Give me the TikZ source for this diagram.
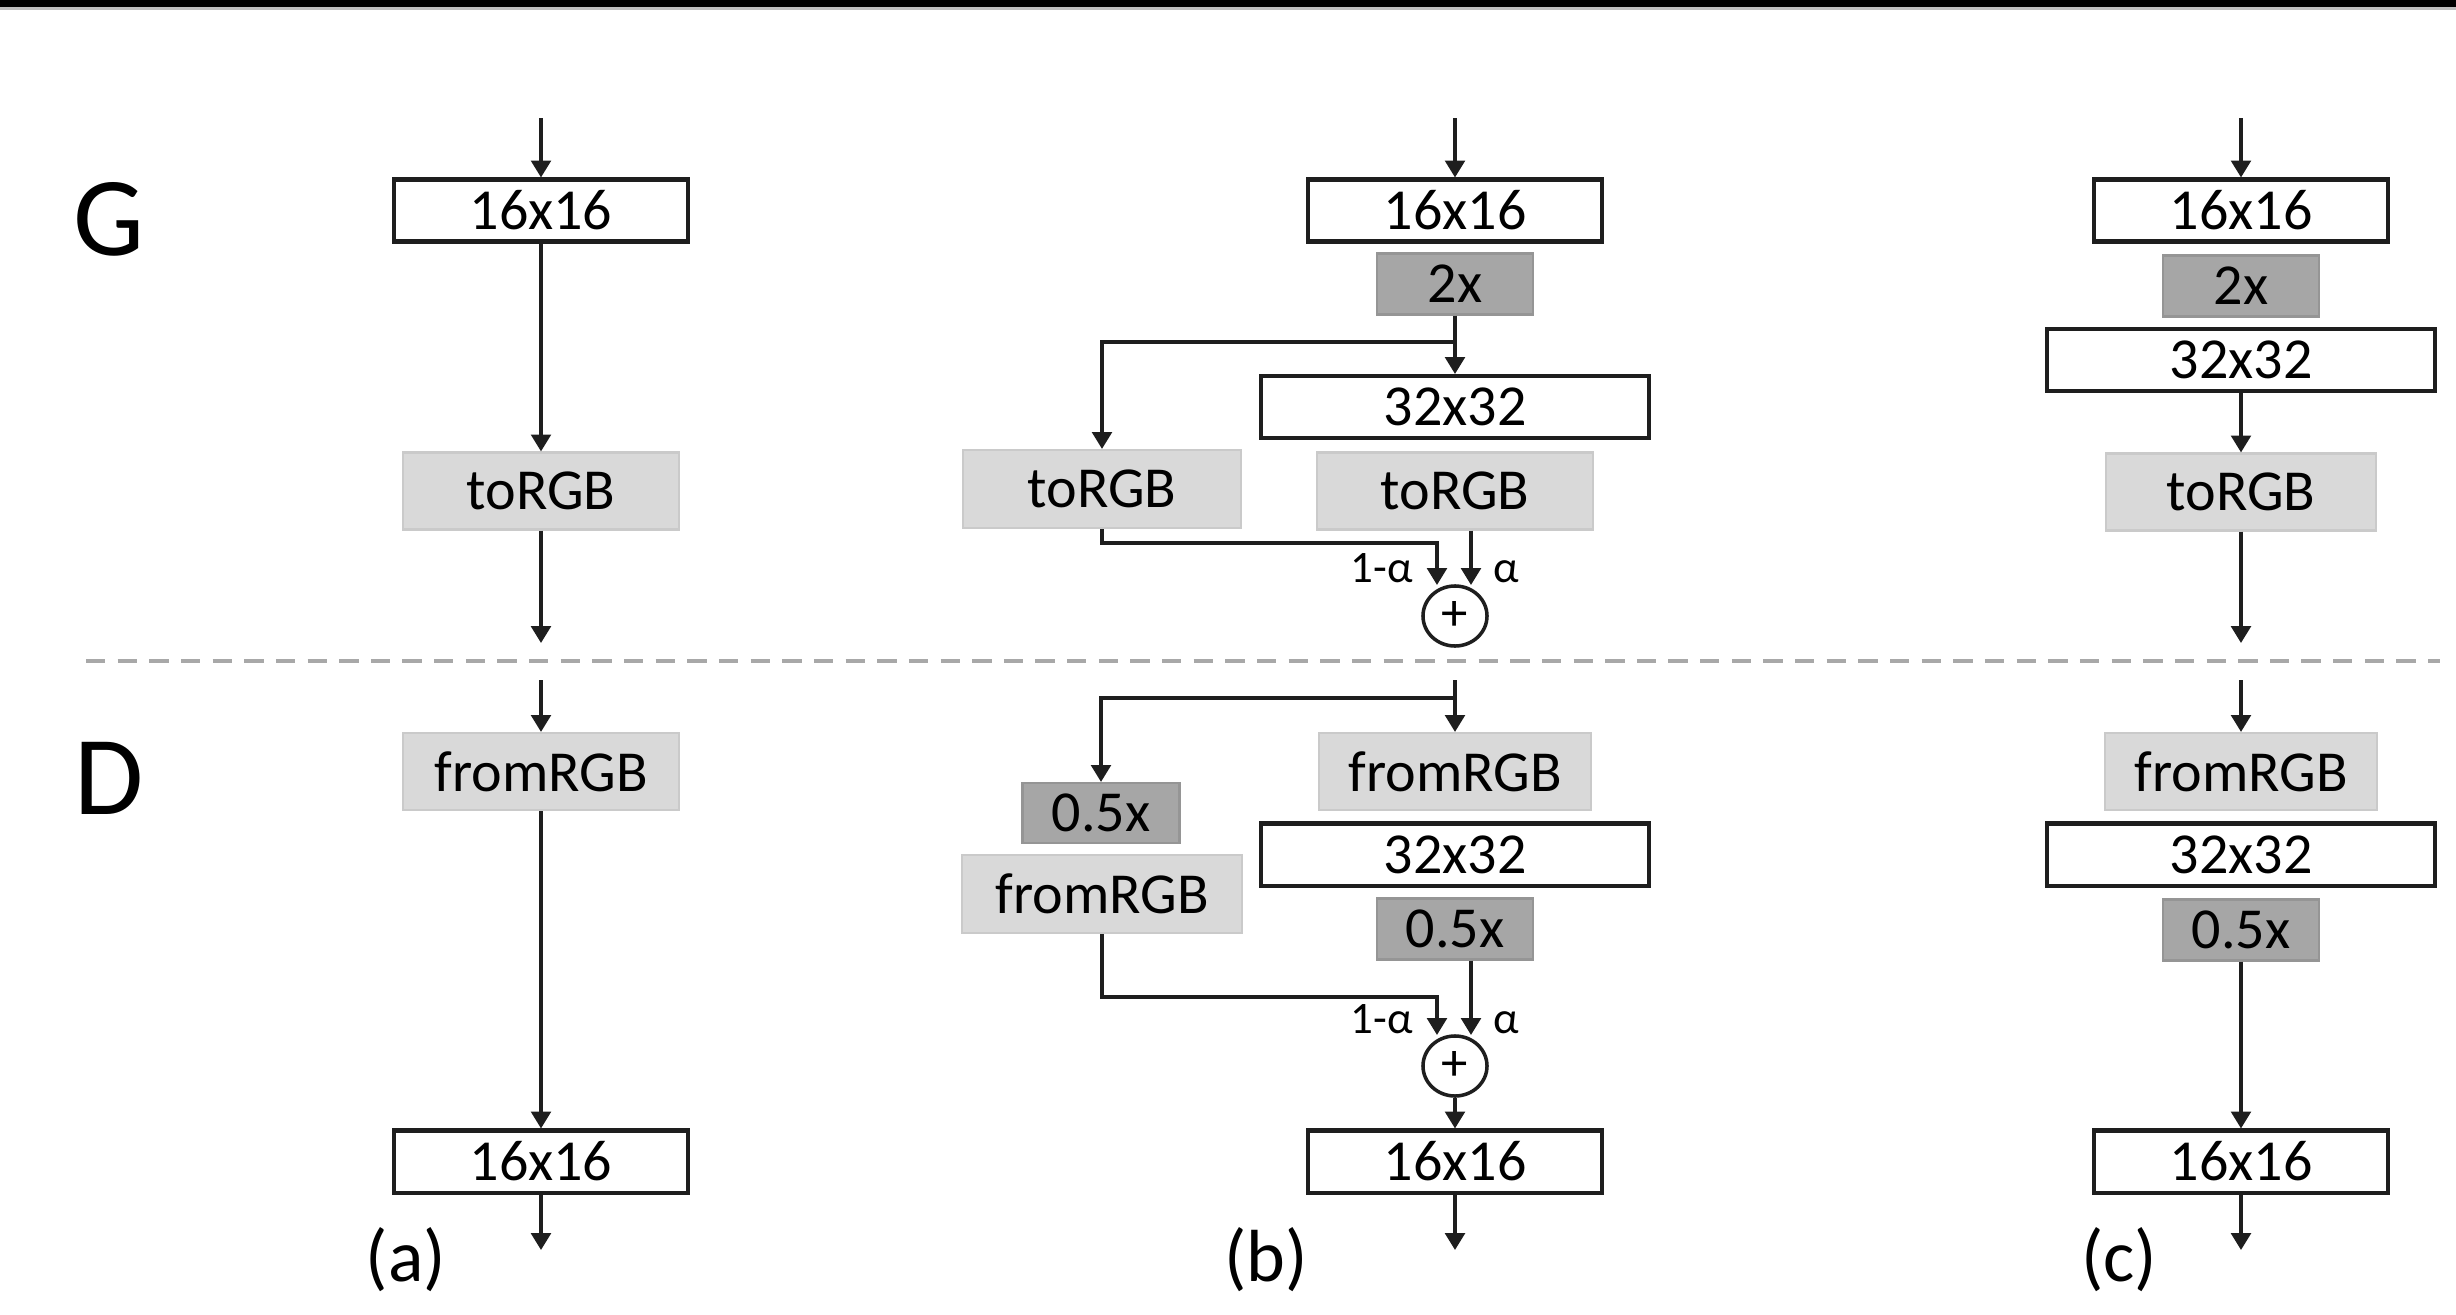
\documentclass[tikz,border=0pt]{standalone}
\usepackage{fontspec}
\setmainfont{Carlito}
\usetikzlibrary{arrows.meta,shapes.geometric}
\definecolor{lightg}{HTML}{D9D9D9}
\definecolor{lightgb}{HTML}{CACACA}
\definecolor{darkg}{HTML}{A6A6A6}
\definecolor{darkgb}{HTML}{959595}
\definecolor{linec}{HTML}{1E1E1E}
\definecolor{dashc}{HTML}{A8A8A8}
\tikzset{
  boxtext/.style={font=\fontsize{16.5}{18}\selectfont, text=black, inner sep=0pt},
  wbox/.style={boxtext, draw=linec, line width=1.15pt, fill=white, minimum width=2.94cm, minimum height=0.62cm},
  wwide/.style={wbox, minimum width=3.87cm},
  lbox/.style={boxtext, fill=lightg, draw=lightgb, line width=0.6pt, minimum width=2.76cm, minimum height=0.77cm},
  dbox/.style={boxtext, fill=darkg, draw=darkgb, line width=0.6pt, minimum width=1.56cm, minimum height=0.61cm},
  sumnode/.style={ellipse, draw=linec, line width=1pt, minimum width=0.64cm, minimum height=0.60cm, inner sep=0pt, font=\fontsize{15}{15}\selectfont},
  arr/.style={-{Triangle[length=4.8pt,width=5.6pt]}, line width=0.95pt, draw=linec},
  wlabel/.style={font=\fontsize{12.8}{14}\selectfont, text=black, inner sep=0pt, anchor=base},
  sublabel/.style={font=\fontsize{21}{24}\selectfont, text=black, inner sep=0pt},
  biglabel/.style={font=\fontsize{32}{36}\selectfont, text=black, inner sep=0pt},
  sepline/.style={draw=dashc, line width=1.1pt, dash pattern=on 5.5pt off 3.5pt}
}
\begin{document}
\begin{tikzpicture}[x=0.01cm,y=-0.01cm]
\useasboundingbox (0,0) rectangle (2456,1315);
% top bar
\fill[black] (0,0) rectangle (2456,7);
\draw[gray!50, line width=0.6pt] (0,8.5) -- (2456,8.5);

% side labels
\node[biglabel] (G) at (109,219) {G};
\node[biglabel] (D) at (109,778) {D};

% separator
\coordinate (sepL) at (86,661);
\coordinate (sepR) at (2440,661);
\draw[sepline] (sepL) -- (sepR);

%% ---------------- column (a) ----------------
\node[wbox] (a16t) at (541,210.5) {16x16};
\node[lbox] (aRGB) at (541,491) {toRGB};
\node[lbox] (aFrom) at (541,771.5) {fromRGB};
\node[wbox] (a16b) at (541,1161.5) {16x16};
\coordinate (aIn) at (541,118);
\coordinate (aOutG) at (541,643);
\coordinate (aInD) at (541,680);
\coordinate (aOut) at (541,1250);
\draw[arr] (aIn) -- (a16t);
\draw[arr] (a16t) -- (aRGB);
\draw[arr] (aRGB) -- (aOutG);
\draw[arr] (aInD) -- (aFrom);
\draw[arr] (aFrom) -- (a16b);
\draw[arr] (a16b) -- (aOut);
\node[sublabel] (la) at (406,1260) {(a)};

%% ---------------- column (b) ----------------
\node[wbox] (b16t) at (1455,210.5) {16x16};
\node[dbox] (b2x) at (1455,284) {2x};
\node[wwide] (b32t) at (1455,407) {32x32};
\node[lbox] (bRGBr) at (1455,491) {toRGB};
\node[lbox, minimum width=2.78cm, minimum height=0.78cm] (bRGBl) at (1102,489) {toRGB};
\node[sumnode] (bP) at (1455,616) {+};
\coordinate (bIn) at (1455,118);
\coordinate (bJ) at (1455,342);
\coordinate (bT1) at (1437,585);
\coordinate (bT2) at (1471,585);
\draw[arr] (bIn) -- (b16t);
\draw[arr] (b2x) -- (b32t);
\draw[arr] (bJ) -| (bRGBl);
\draw[arr] (bRGBl.south) -- ++(0,14) -| (bT1);
\draw[arr] (bRGBr.south -| bT2) -- (bT2);
\node[wlabel] (bL1) at (1382,582) {1-α};
\node[wlabel] (bL2) at (1506,582) {α};

\node[lbox, minimum width=2.71cm] (bFromr) at (1455,771.5) {fromRGB};
\node[wwide] (b32b) at (1455,854.5) {32x32};
\node[dbox] (b05r) at (1455,929) {0.5x};
\node[dbox, minimum width=1.57cm, minimum height=0.60cm] (b05l) at (1101,813) {0.5x};
\node[lbox, minimum width=2.80cm, minimum height=0.78cm] (bFroml) at (1102,894) {fromRGB};
\node[sumnode] (bP2) at (1455,1066) {+};
\node[wbox] (b16b) at (1455,1161.5) {16x16};
\coordinate (bInD) at (1455,680);
\coordinate (bJ2) at (1455,698);
\coordinate (bT3) at (1437,1035);
\coordinate (bT4) at (1471,1035);
\coordinate (bOut) at (1455,1250);
\draw[arr] (bInD) -- (bFromr);
\draw[arr] (bJ2) -| (b05l);
\draw[arr] (bFroml.south) -- ++(0,63) -| (bT3);
\draw[arr] (b05r.south -| bT4) -- (bT4);
\draw[arr] (bP2) -- (b16b);
\draw[arr] (b16b) -- (bOut);
\node[wlabel] (bL3) at (1382,1033) {1-α};
\node[wlabel] (bL4) at (1506,1033) {α};
\node[sublabel] (lb) at (1266,1260) {(b)};

%% ---------------- column (c) ----------------
\node[wbox] (c16t) at (2241,210.5) {16x16};
\node[dbox] (c2x) at (2241,286) {2x};
\node[wwide] (c32t) at (2241,360) {32x32};
\node[lbox, minimum width=2.70cm] (cRGB) at (2241,492) {toRGB};
\node[lbox, minimum width=2.72cm] (cFrom) at (2241,771.5) {fromRGB};
\node[wwide] (c32b) at (2241,854.5) {32x32};
\node[dbox] (c05) at (2241,930) {0.5x};
\node[wbox] (c16b) at (2241,1161.5) {16x16};
\coordinate (cIn) at (2241,118);
\coordinate (cOutG) at (2241,643);
\coordinate (cInD) at (2241,680);
\coordinate (cOut) at (2241,1250);
\draw[arr] (cIn) -- (c16t);
\draw[arr] (c32t) -- (cRGB);
\draw[arr] (cRGB) -- (cOutG);
\draw[arr] (cInD) -- (cFrom);
\draw[arr] (c05) -- (c16b);
\draw[arr] (c16b) -- (cOut);
\node[sublabel] (lc) at (2119,1260) {(c)};
\end{tikzpicture}
\end{document}
